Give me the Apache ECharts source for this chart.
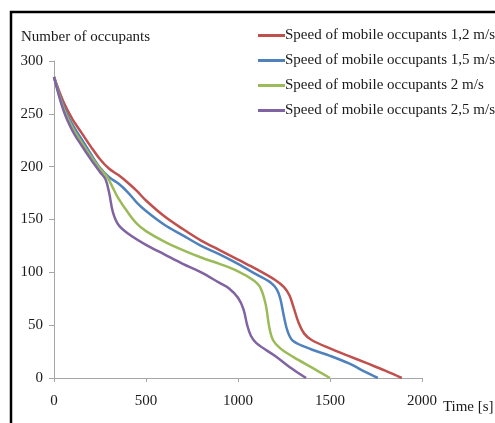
<!DOCTYPE html>
<html>
<head>
<meta charset="utf-8">
<script src="https://cdn.jsdelivr.net/npm/echarts@6/dist/echarts.min.js"></script>
<style>
  html, body { margin: 0; padding: 0; background: #ffffff; }
  #chart { width: 495px; height: 423px; }
</style>
</head>
<body>
<div id="chart"></div>
<script>
// Evacuation curves: remaining occupants over time for four walking speeds
const seriesNames = [
  'Speed of mobile occupants 1,2 m/s',
  'Speed of mobile occupants 1,5 m/s',
  'Speed of mobile occupants 2 m/s',
  'Speed of mobile occupants 2,5 m/s'
];
const seriesColors = ['#C0504D', '#4F81BD', '#9BBB59', '#8064A2'];

// [time in s, number of occupants]
const speed12 = [
  [0, 285], [50, 262], [100, 245], [150, 232], [200, 219], [250, 207], [300, 198],
  [350, 192], [400, 185], [450, 177], [500, 168], [600, 153], [700, 141], [800, 130],
  [900, 121], [1000, 112], [1100, 103], [1200, 93], [1250, 86], [1280, 78], [1300, 68],
  [1330, 52], [1360, 42], [1400, 36], [1500, 28], [1600, 21], [1700, 14], [1800, 7], [1890, 0]
];
const speed15 = [
  [0, 285], [50, 258], [100, 240], [150, 226], [200, 212], [250, 199], [300, 190],
  [350, 184], [400, 176], [450, 166], [500, 158], [600, 145], [700, 135], [800, 125],
  [900, 117], [1000, 108], [1100, 98], [1180, 90], [1210, 84], [1230, 75], [1250, 58],
  [1270, 44], [1300, 35], [1400, 27], [1500, 21], [1600, 14], [1700, 5], [1760, 0]
];
const speed20 = [
  [0, 285], [50, 256], [100, 237], [150, 223], [200, 210], [250, 198], [290, 190],
  [320, 180], [350, 170], [400, 157], [450, 146], [500, 139], [600, 129], [700, 121],
  [800, 114], [900, 108], [1000, 101], [1080, 93], [1120, 86], [1150, 70], [1170, 48],
  [1190, 36], [1230, 28], [1300, 20], [1400, 10], [1500, 0]
];
const speed25 = [
  [0, 285], [50, 254], [100, 234], [150, 220], [200, 207], [250, 195], [280, 188],
  [300, 175], [320, 157], [350, 145], [400, 137], [500, 126], [600, 117], [700, 108],
  [800, 100], [900, 90], [950, 85], [1000, 76], [1030, 65], [1050, 50], [1070, 40],
  [1100, 33], [1200, 21], [1300, 8], [1370, 0]
];
const seriesData = [speed12, speed15, speed20, speed25];

const xTicks = { min: 0, max: 2000, interval: 500 };
const yTicks = { min: 0, max: 300, interval: 50 };

const serifFont = '"Liberation Serif", "Times New Roman", serif';

const chart = echarts.init(document.getElementById('chart'), null, { renderer: 'canvas' });

chart.setOption({
  animation: false,
  backgroundColor: '#ffffff',
  textStyle: { fontFamily: serifFont },
  grid: { left: 54, right: 73, top: 61, bottom: 45, containLabel: false, outerBoundsMode: 'none' },
  legend: {
    orient: 'vertical',
    left: 253,
    top: 23,
    itemWidth: 27,
    itemHeight: 3,
    itemGap: 10,
    icon: 'rect',
    textStyle: { fontFamily: serifFont, fontSize: 15, color: '#1a1a1a', padding: [0, 0, 0, -5] },
    data: seriesNames
  },
  xAxis: {
    type: 'value',
    min: xTicks.min,
    max: xTicks.max,
    interval: xTicks.interval,
    name: 'Time [s]',
    nameLocation: 'end',
    nameGap: 10,
    nameTextStyle: { fontFamily: serifFont, fontSize: 15, color: '#1a1a1a', verticalAlign: 'top', padding: [22, 0, 0, 0] },
    axisLine: { show: true, lineStyle: { color: '#a6a6a6', width: 1 } },
    axisTick: { show: true, inside: false, length: 4, lineStyle: { color: '#a6a6a6' } },
    axisLabel: { fontFamily: serifFont, fontSize: 15, color: '#1a1a1a', margin: 16, formatter: v => String(v) },
    splitLine: { show: false }
  },
  yAxis: {
    type: 'value',
    min: yTicks.min,
    max: yTicks.max,
    interval: yTicks.interval,
    name: 'Number of occupants',
    nameLocation: 'end',
    nameGap: 24,
    nameTextStyle: { fontFamily: serifFont, fontSize: 15, color: '#1a1a1a', align: 'left', verticalAlign: 'middle', padding: [0, 0, 0, -33] },
    axisLine: { show: true, lineStyle: { color: '#a6a6a6', width: 1 } },
    axisTick: { show: true, inside: false, length: 5, lineStyle: { color: '#a6a6a6' } },
    axisLabel: { fontFamily: serifFont, fontSize: 15, color: '#1a1a1a', margin: 11, formatter: v => String(v) },
    splitLine: { show: false }
  },
  graphic: [{
    type: 'rect',
    shape: { x: 11, y: 12, width: 500, height: 430 },
    style: { fill: 'none', stroke: '#000000', lineWidth: 2.5 },
    silent: true,
    z: 100
  }],
  series: seriesData.map((d, i) => ({
    name: seriesNames[i],
    type: 'line',
    data: d,
    smooth: 0.35,
    showSymbol: false,
    color: seriesColors[i],
    lineStyle: { width: 2.5, color: seriesColors[i] }
  }))
});
</script>
</body>
</html>
